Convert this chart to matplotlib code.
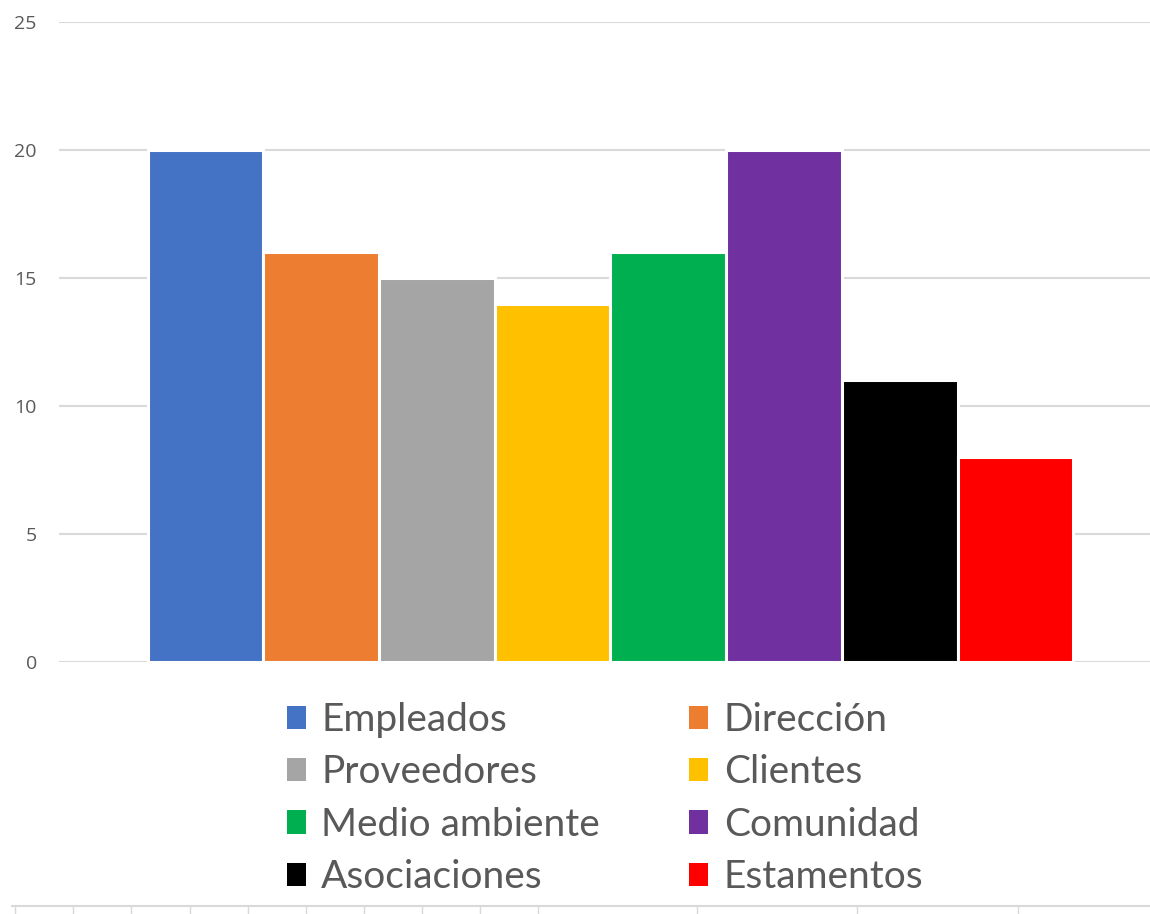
import matplotlib
matplotlib.use("Agg")
import matplotlib.pyplot as plt
from matplotlib.patches import Patch
from matplotlib.lines import Line2D

# data
categories = ['Empleados', 'Dirección', 'Proveedores', 'Clientes',
              'Medio ambiente', 'Comunidad', 'Asociaciones', 'Estamentos']
values = [20, 16, 15, 14, 16, 20, 11, 8]
bar_colors = ['#4472C4', '#ED7D31', '#A5A5A5', '#FFC000',
              '#00B050', '#7030A0', '#000000', '#FF0000']
yticks = [0, 5, 10, 15, 20, 25]

plt.rcParams['font.family'] = ['Lato', 'DejaVu Sans']
text_color = '#595959'

fig = plt.figure(figsize=(11.5, 9.14), dpi=100)
ax = fig.add_axes([59/1150, 1-662/914, 1-59/1150, 640/914])

x = list(range(len(values)))
ax.bar(x, values, width=1.0, color=bar_colors, edgecolor='white',
       linewidth=2.2, zorder=3)

ax.set_ylim(0, 25)
ax.set_xlim(-0.5 - 89/116, 7.5 + 77/116)
ax.set_yticks(yticks)
ax.set_yticklabels([str(t) for t in yticks], fontsize=14, color=text_color,
                   family=['Open Sans', 'DejaVu Sans'])
ax.tick_params(axis='y', length=0, pad=16)
ax.set_xticks([])
ax.grid(axis='y', color='#D9D9D9', linewidth=1.5, zorder=0)
for s in ax.spines.values():
    s.set_visible(False)

# legend in row order: two columns
handles = [Patch(facecolor=c, edgecolor='none') for c in bar_colors]
order = [0, 2, 4, 6, 1, 3, 5, 7]
fig.legend([handles[i] for i in order], [categories[i] for i in order],
           ncol=2, loc='upper left', bbox_to_anchor=(252/1150, 1-667/914),
           frameon=False, fontsize=28, labelcolor=text_color,
           handlelength=0.48, handleheight=0.55, handletextpad=0.4,
           columnspacing=2.3, labelspacing=0.42)

# spreadsheet grid strip at the bottom
fig.add_artist(Line2D([12/1150, 1.0], [1-906/914, 1-906/914],
                      color='#D9D9D9', linewidth=1.5))
for xs in [15, 73, 131, 190, 248, 306, 364, 422, 480, 538, 697, 857, 1018]:
    fig.add_artist(Line2D([xs/1150, xs/1150], [0, 1-906/914],
                          color='#D9D9D9', linewidth=1.0))

fig.savefig('out.png', dpi=100)
